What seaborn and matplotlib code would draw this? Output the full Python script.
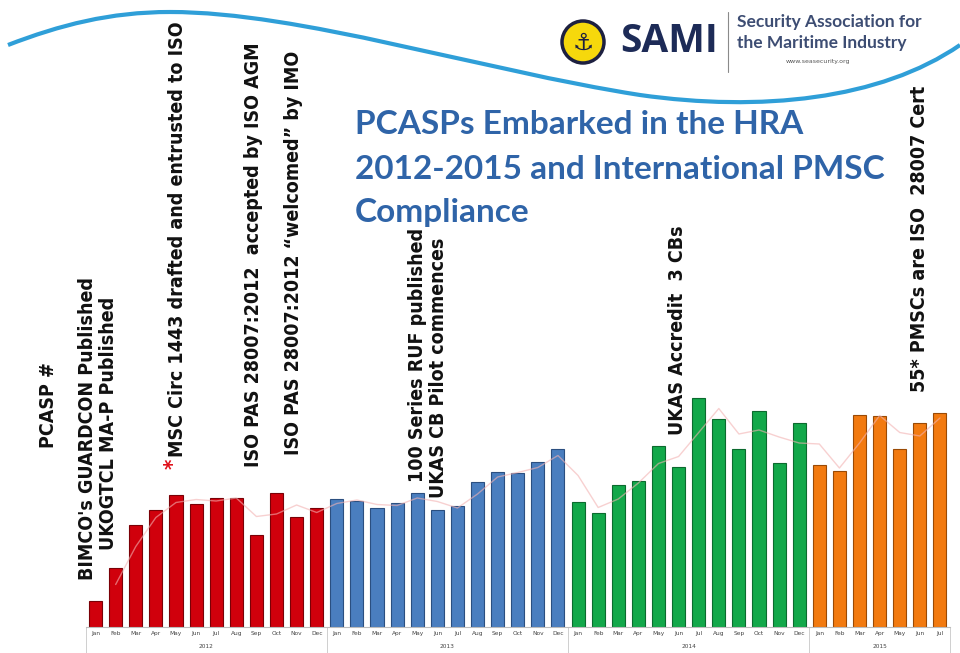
import matplotlib
matplotlib.use("Agg")
import numpy as np
import pandas as pd
import matplotlib.pyplot as plt
import seaborn as sns
from matplotlib import font_manager
from matplotlib.path import Path
from matplotlib.patches import PathPatch, Ellipse

# PCASPs embarked per month (arbitrary units)
months = ["Jan", "Feb", "Mar", "Apr", "May", "Jun", "Jul", "Aug", "Sep", "Oct", "Nov", "Dec"]
years = ["2012", "2013", "2014", "2015"]
pcasp_2012 = [26, 59, 102, 117, 132, 123, 129, 129, 92, 134, 110, 119]
pcasp_2013 = [128, 126, 119, 124, 134, 117, 121, 145, 155, 154, 165, 178]
pcasp_2014 = [125, 114, 142, 146, 181, 160, 229, 208, 178, 216, 164, 204]
pcasp_2015 = [162, 156, 212, 211, 178, 204, 214]
year_colors = ["#d0000c", "#4a7ebf", "#12a84a", "#f27a10"]
edge_colors = ["#7a0006", "#2b4f80", "#0b6a2e", "#9a4a05"]

# events written up the chart: (text, month index, value where the text starts)
events = [
    ("BIMCO's GUARDCON Published", -0.40, 47),
    ("UKOGTCL MA-P Published", 0.62, 77),
    ("MSC Circ 1443 drafted and entrusted to ISO", 4.10, 170),
    ("ISO PAS 28007:2012  accepted by ISO AGM", 7.84, 160),
    ("ISO PAS 28007:2012 \u201cwelcomed\u201d by IMO", 9.83, 172),
    ("100 Series RUF published", 16.0, 145),
    ("UKAS CB Pilot commences", 17.04, 129),
    ("UKAS Accredit  3 CBs", 28.93, 192),
    ("55* PMSCs are ISO  28007 Cert", 41.0, 235),
]

series = [pcasp_2012, pcasp_2013, pcasp_2014, pcasp_2015]
rows = []
for yr, vals in zip(years, series):
    for m, v in zip(months, vals):
        rows.append({"year": yr, "month": m, "pcasp": v})
df = pd.DataFrame(rows)
df["idx"] = np.arange(len(df))

sns.set_theme(style="white")
plt.rcParams["font.family"] = ["DejaVu Sans"]

# narrow bold face for the event notes
cond = font_manager.FontProperties(family="DejaVu Sans", stretch="condensed", weight="bold")
if "Condensed" in font_manager.findfont(cond):
    note_kw = dict(family="DejaVu Sans", fontstretch="condensed", fontsize=14)
else:
    note_kw = dict(family="Liberation Sans", fontsize=13)

W, H = 960, 653
fig = plt.figure(figsize=(W / 100, H / 100), dpi=100)
ax = fig.add_axes([85.5 / W, 26 / H, 864.5 / W, 600 / H])

sns.barplot(data=df, x="idx", y="pcasp", hue="year", palette=year_colors,
            dodge=False, width=0.65, legend=False, ax=ax, saturation=1)
for patch, yr in zip(ax.patches, df["year"]):
    patch.set_edgecolor(edge_colors[years.index(yr)])
    patch.set_linewidth(0.8)

# faint 2-month moving average trendline
trend = df["pcasp"].rolling(2).mean()
ax.plot(df["idx"], trend, color="#f3b2b2", lw=1.0, alpha=0.6, zorder=3)

ax.set_xlim(-0.5, len(df) - 0.5)
ax.set_ylim(0, 600)
ax.set_yticks([])
ax.set_xlabel("")
ax.set_ylabel("")
for s in ["top", "left", "right"]:
    ax.spines[s].set_visible(False)
ax.spines["bottom"].set_color("#bdbdbd")
ax.spines["bottom"].set_linewidth(0.8)

ax.set_xticks(df["idx"])
ax.set_xticklabels(df["month"], fontsize=4.2, color="#444444")
ax.tick_params(axis="x", which="major", length=0, pad=3)
ax.set_xticks(np.arange(len(df) + 1) - 0.5, minor=True)
ax.tick_params(axis="x", which="minor", length=9, color="#c8c8c8", width=0.6)

# year groups below month labels
xt = ax.get_xaxis_transform()
start = 0
bounds = [-0.5]
for yr, vals in zip(years, series):
    end = start + len(vals)
    ax.text((start + end - 1) / 2, -20 / 600, yr, transform=xt, fontsize=4.2,
            ha="center", va="center", color="#444444")
    bounds.append(end - 0.5)
    start = end
for b in bounds:
    ax.plot([b, b], [0, -27 / 600], transform=xt, color="#c8c8c8", lw=0.6, clip_on=False)

# event annotations
for text, x, y in events:
    if text.startswith("MSC"):
        ax.text(x - 0.2, y - 12, "*", color="#e0101a", fontweight="bold",
                rotation=90, ha="center", va="bottom", clip_on=False,
                **{**note_kw, "fontsize": note_kw["fontsize"] + 2})
    ax.text(x, y, text, rotation=90, ha="center", va="bottom",
            fontweight="bold", color="#111111", clip_on=False, **note_kw)

fig.text(48 / W, 1 - 448 / H, "PCASP #", rotation=90, ha="center", va="bottom",
         fontweight="bold", color="#111111", **note_kw)

# title
title_kw = dict(fontsize=24, fontweight="bold", color="#2f64a8",
                family=["Lato", "DejaVu Sans"], va="center")
fig.text(355 / W, 1 - 125 / H, "PCASPs Embarked in the HRA", **title_kw)
fig.text(355 / W, 1 - 169 / H, "2012-2015 and International PMSC", **title_kw)
fig.text(355 / W, 1 - 212 / H, "Compliance", **title_kw)

# blue swoosh across the top
def px(x, y):
    return (x / W, 1 - y / H)

verts = [px(8, 45), px(60, 25), px(110, 12), px(170, 12),
         px(300, 12), px(480, 70), px(640, 95),
         px(760, 112), px(880, 100), px(960, 45)]
codes = [Path.MOVETO] + [Path.CURVE4] * 9
fig.add_artist(PathPatch(Path(verts, codes), facecolor="none", edgecolor="#2f9fd8",
                         lw=3, transform=fig.transFigure))

# SAMI logo
fig.add_artist(Ellipse(px(583, 42), 42 / W, 42 / H, facecolor="#f6d80c",
                       edgecolor="#1d2040", lw=2.5, transform=fig.transFigure))
fig.text(*px(583, 43), "\u2693", fontsize=17, ha="center", va="center", color="#1d2040")
fig.text(*px(620, 42), "SAMI", fontsize=28, fontweight="bold", color="#1d2b57",
         family=["Open Sans", "DejaVu Sans"], ha="left", va="center")
fig.add_artist(plt.Line2D([728 / W, 728 / W], [1 - 12 / H, 1 - 72 / H], color="#8a8a8a",
                          lw=0.8, transform=fig.transFigure))
fig.text(*px(737, 22), "Security Association for", fontsize=12.5, fontweight="bold",
         color="#3d4d73", family=["Lato", "DejaVu Sans"], ha="left", va="center")
fig.text(*px(737, 43), "the Maritime Industry", fontsize=12.5, fontweight="bold",
         color="#3d4d73", family=["Lato", "DejaVu Sans"], ha="left", va="center")
fig.text(*px(818, 62), "www.seasecurity.org", fontsize=4.5, color="#555555",
         ha="center", va="center")

fig.savefig("out.png", dpi=100)
